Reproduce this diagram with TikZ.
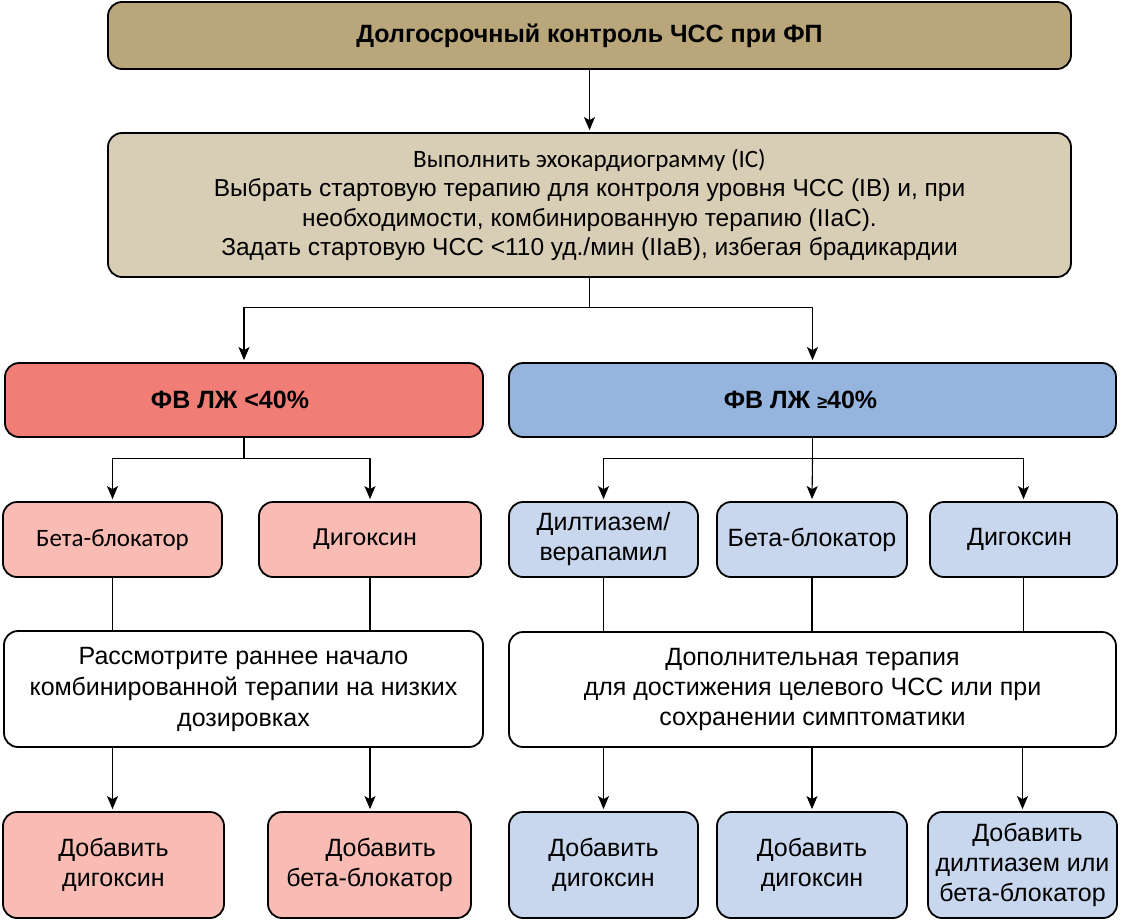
\documentclass[tikz,border=0pt]{standalone}
\usepackage{fontspec}
\setmainfont{Liberation Sans}
\newfontfamily\calfont{Carlito}
\usepackage{xcolor}
\usetikzlibrary{arrows.meta}

\definecolor{tandark}{HTML}{B9A67B}
\definecolor{tanlight}{HTML}{D8CDB5}
\definecolor{reddark}{HTML}{F17D77}
\definecolor{redlight}{HTML}{F8BCB4}
\definecolor{bluedark}{HTML}{95B5DF}
\definecolor{bluelight}{HTML}{C8D7EE}

\tikzset{
  box/.style={draw, line width=1.8pt, rounded corners=14pt, align=center, inner sep=0pt,
    font=\fontsize{25}{30}\selectfont},
  arr/.style={-{Stealth[length=13pt,width=11pt,inset=3pt]}, line width=1.1pt, shorten >=2pt},
  link/.style={line width=1.1pt},
}

\begin{document}
\begin{tikzpicture}[x=1pt,y=-1pt]
        \useasboundingbox (0,0) rectangle (1133,921);

        % header
        \node[box,fill=tandark,minimum width=963pt,minimum height=67pt,font=\bfseries\fontsize{25}{30}\selectfont] (top) at (589.5,35.5) {Долгосрочный контроль ЧСС при ФП};
        \node[box,fill=tanlight,minimum width=963pt,minimum height=144pt,font=\fontsize{24.5}{29.5}\selectfont] (info) at (589.5,205)
            {{\calfont\fontsize{25}{29.5}\selectfont Выполнить эхокардиограмму (IC)}\\
             Выбрать стартовую терапию для контроля уровня ЧСС (IB) и, при\\
             необходимости, комбинированную терапию (IIaC).\\
             Задать стартовую ЧСС <110 уд./мин (IIaB), избегая брадикардии};

        % two branches
        \node[box,fill=reddark,minimum width=478pt,minimum height=74pt,font=\bfseries\fontsize{25}{30}\selectfont] (red) at (244,400) {ФВ ЛЖ <40\%\hspace*{28pt}};
        \node[box,fill=bluedark,minimum width=607pt,minimum height=74pt,font=\bfseries\fontsize{25}{30}\selectfont] (blue) at (812.5,400) {ФВ ЛЖ {\fontsize{18}{30}\selectfont ≥}40\%\hspace*{24pt}};

        % left side
        \node[box,fill=redlight,minimum width=219pt,minimum height=75pt,font=\calfont\fontsize{25}{30}\selectfont] (lbeta) at (112.5,539.5) {Бета-блокатор};
        \node[box,fill=redlight,minimum width=222pt,minimum height=75pt,font=\calfont\fontsize{26}{30}\selectfont] (ldig) at (370,539.5) {Дигоксин\hspace*{10pt}};
        \node[box,fill=white,minimum width=479pt,minimum height=116pt,font=\fontsize{25}{31}\selectfont] (consider) at (243.5,689)
            {Рассмотрите раннее начало\\комбинированной терапии на низких\\дозировках};
        \node[box,fill=redlight,minimum width=221pt,minimum height=106pt] (ladd1) at (113.5,865) {Добавить\\дигоксин};
        \node[box,fill=redlight,minimum width=203pt,minimum height=106pt] (ladd2) at (369.5,865) {\hspace*{0.9em}Добавить\\бета-блокатор};

        % right side
        \node[box,fill=bluelight,minimum width=189pt,minimum height=75pt] (rdil) at (603.5,539.5) {Дилтиазем/\\верапамил};
        \node[box,fill=bluelight,minimum width=190pt,minimum height=75pt] (rbeta) at (812,539.5) {Бета-блокатор};
        \node[box,fill=bluelight,minimum width=187pt,minimum height=75pt] (rdig) at (1023.5,539.5) {Дигоксин\hspace*{8pt}};
        \node[box,fill=white,minimum width=607pt,minimum height=115pt] (extra) at (812.5,689.5)
            {Дополнительная терапия\\для достижения целевого ЧСС или при\\сохранении симптоматики};
        \node[box,fill=bluelight,minimum width=189pt,minimum height=106pt] (radd1) at (603.5,865) {Добавить\\дигоксин};
        \node[box,fill=bluelight,minimum width=190pt,minimum height=106pt] (radd2) at (812,865) {Добавить\\дигоксин};
        \node[box,fill=bluelight,minimum width=189pt,minimum height=106pt] (radd3) at (1022.5,865) {\hspace*{0.4em}Добавить\\дилтиазем или\\бета-блокатор};

        % connectors
        \draw[arr] (top) -- (info);
        \draw[link] (info.south) -- ++(0,30) coordinate (split);
        \draw[arr] (split) -| (red.north);
        \draw[arr] (split) -| (blue.north);

        \draw[link] (red.south) -- ++(0,21) coordinate (lsplit);
        \draw[arr] (lsplit) -| (lbeta.north);
        \draw[arr] (lsplit) -| (ldig.north);
        \draw[link] (lbeta.south) -- (lbeta.south |- consider.north);
        \draw[link] (ldig.south) -- (ldig.south |- consider.north);
        \draw[arr] (lbeta.south |- consider.south) -- (lbeta.south |- ladd1.north);
        \draw[arr] (ldig.south |- consider.south) -- (ldig.south |- ladd2.north);

        \draw[link] (blue.south) -- ++(0,21) coordinate (rsplit);
        \draw[arr] (rsplit) -| (rdil.north);
        \draw[arr] (rsplit) -- (rbeta.north);
        \draw[arr] (rsplit) -| (rdig.north);
        \draw[link] (rdil.south) -- (rdil.south |- extra.north);
        \draw[link] (rbeta.south) -- (rbeta.south |- extra.north);
        \draw[link] (rdig.south) -- (rdig.south |- extra.north);
        \draw[arr] (radd1.north |- extra.south) -- (radd1.north);
        \draw[arr] (radd2.north |- extra.south) -- (radd2.north);
        \draw[arr] (radd3.north |- extra.south) -- (radd3.north);
    \end{tikzpicture}
\end{document}
